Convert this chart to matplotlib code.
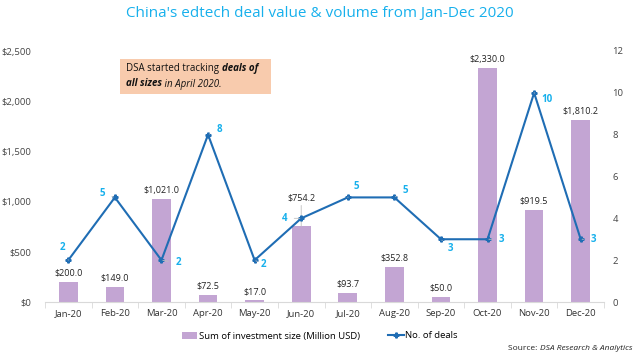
import matplotlib
matplotlib.use("Agg")
import matplotlib.pyplot as plt
from matplotlib.patches import Rectangle, Patch
from matplotlib.lines import Line2D

months = ["Jan-20", "Feb-20", "Mar-20", "Apr-20", "May-20", "Jun-20",
          "Jul-20", "Aug-20", "Sep-20", "Oct-20", "Nov-20", "Dec-20"]
investment = [200.0, 149.0, 1021.0, 72.5, 17.0, 754.2, 93.7, 352.8, 50.0, 2330.0, 919.5, 1810.2]
deals = [2, 5, 2, 8, 2, 4, 5, 5, 3, 3, 10, 3]
left_ticks = [0, 500, 1000, 1500, 2000, 2500]
right_ticks = [0, 2, 4, 6, 8, 10, 12]
# label offsets (points) for deal labels
deal_offsets = [(-4, 9), (-9, 3), (12, -2), (8, 4), (6, -3), (-12, 0),
                (6, 8), (8, 5), (7, -7), (10, 0), (9, -5), (9, 0)]
# label offsets (points) for bar value labels
bar_offsets = [3, 3, 3, 3, 3, 17, 3, 3, 3, 3, 3, 3]

plt.rcParams['font.family'] = ['Open Sans', 'DejaVu Sans']
W, H = 640, 356
fig = plt.figure(figsize=(6.4, 3.56), dpi=100)
ax = fig.add_axes([45 / W, 1 - 302 / H, (604 - 45) / W, (302 - 51) / H])
ax2 = ax.twinx()

x = list(range(len(months)))
bar_color = "#c3a5d3"
line_color = "#1f6db4"
cyan = "#17b0ec"

ax.bar(x, investment, width=0.4, color=bar_color, zorder=2)
for xi, v, oy in zip(x, investment, bar_offsets):
    kw = {}
    if oy > 5:
        kw = dict(arrowprops=dict(arrowstyle="-", color="#bfbfbf", lw=0.6, shrinkA=0, shrinkB=0))
    ax.annotate(f"${v:,.1f}", (xi, v), xytext=(0, oy), textcoords="offset points",
                ha="center", va="bottom", fontsize=6.5, color="#222222", zorder=4, **kw)

ax.set_xlim(-0.5, 11.5)
ax.set_ylim(0, 2500)
ax.set_yticks(left_ticks)
ax.set_yticklabels([f"${t:,}" for t in left_ticks])
ax.set_xticks(x)
ax.set_xticklabels(months)
ax.set_xticks([i + 0.5 for i in range(-1, 12)], minor=True)
ax.tick_params(axis="x", which="major", length=0, labelsize=6.8, pad=5, labelcolor="#333333")
ax.tick_params(axis="x", which="minor", length=4, color="#d9d9d9")
ax.tick_params(axis="y", length=0, labelsize=6.8, pad=10, labelcolor="#444444")
for s in ["top", "right", "left"]:
    ax.spines[s].set_visible(False)
ax.spines["bottom"].set_color("#d9d9d9")

ax2.plot(x, deals, color=line_color, lw=1.5, marker="P", ms=3.5, zorder=3)
ax2.set_ylim(0, 12)
ax2.set_yticks(right_ticks)
ax2.tick_params(axis="y", length=0, labelsize=6.8, pad=6, labelcolor="#444444")
for s in ["top", "right", "left", "bottom"]:
    ax2.spines[s].set_visible(False)

for xi, d, off in zip(x, deals, deal_offsets):
    ax2.annotate(str(d), (xi, d), xytext=off, textcoords="offset points",
                 ha="center", va="center", fontsize=7, fontweight="bold", color=cyan,
                 arrowprops=dict(arrowstyle="-", color="#bfbfbf", lw=0.6, shrinkA=3, shrinkB=1))

fig.text(0.5, 1 - 14 / H, "China's edtech deal value & volume from Jan-Dec 2020",
         ha="center", va="center", fontsize=11, color=cyan)

# annotation box
fig.patches.append(Rectangle((120 / W, 1 - 94 / H), (271 - 120) / W, (94 - 59) / H,
                             transform=fig.transFigure, facecolor="#f8cbad", edgecolor="none", zorder=5))
fig.canvas.draw()
r = fig.canvas.get_renderer()

def seq(parts, x0, y0):
    xx = x0
    for txt, style, weight in parts:
        t = fig.text(xx, y0, txt, fontsize=7, style=style, fontweight=weight,
                     color="#111111", va="center", ha="left", zorder=6)
        bb = t.get_window_extent(renderer=r)
        xx = bb.x1 / W

seq([("DSA started tracking ", "normal", "normal"), ("deals of", "italic", "bold")], 126 / W, 1 - 69 / H)
seq([("all sizes", "italic", "bold"), (" in April 2020.", "italic", "normal")], 126 / W, 1 - 84 / H)

handles = [Patch(facecolor=bar_color, label="Sum of investment size (Million USD)"),
           Line2D([0], [0], color=line_color, marker="P", ms=3.5, lw=1.5, label="No. of deals")]
fig.legend(handles=handles, loc="center", bbox_to_anchor=(320 / W, 1 - 336 / H), ncol=2,
           frameon=False, fontsize=6.8, handlelength=1.6, handleheight=0.7, handletextpad=0.2,
           columnspacing=3)

t1 = fig.text(632 / W, 1 - 349 / H, "DSA Research & Analytics", fontsize=6, style="italic",
              color="#222222", va="center", ha="right")
fig.canvas.draw()
bb = t1.get_window_extent(renderer=fig.canvas.get_renderer())
fig.text(bb.x0 / W, 1 - 349 / H, "Source: ", fontsize=6, color="#222222", va="center", ha="right")

fig.savefig("out.png", dpi=100)
